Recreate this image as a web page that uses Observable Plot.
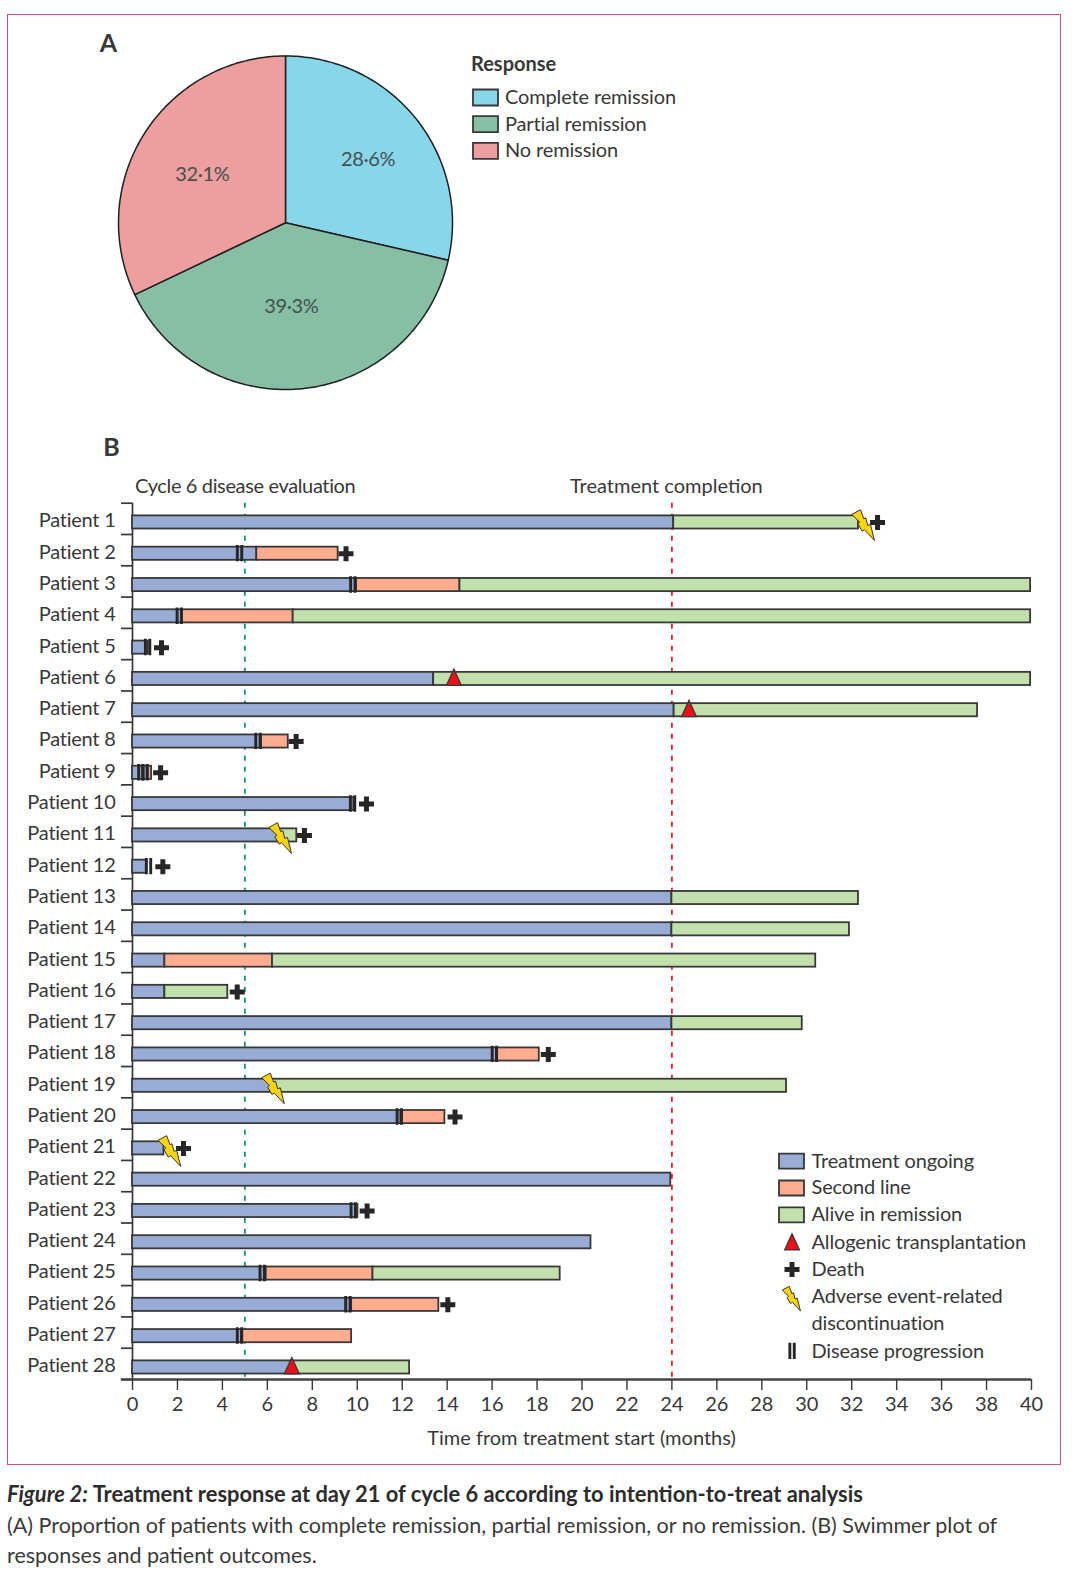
<!DOCTYPE html>
<html><head><meta charset="utf-8">
<script src="https://cdn.jsdelivr.net/npm/d3@7"></script>
<script src="https://cdn.jsdelivr.net/npm/@observablehq/plot@0.6"></script>
<style>
html,body{margin:0;padding:0;background:#fff}
#page{position:relative;width:1080px;height:1576px;font-family:Lato,sans-serif;color:#3a3a3a;overflow:hidden}
#frame{position:absolute;left:7px;top:14px;width:1052px;height:1449px;border:1px solid #dc4f7c;box-sizing:content-box}
#a,#b{position:absolute;left:0}
#a{top:0}#b{top:430px}
#cap{position:absolute;left:7px;top:1479px;width:1050px;font-size:21.5px;line-height:30.6px}
#cap b{font-weight:700;color:#2c2c2c;font-size:21.9px}
svg{font-family:Lato,sans-serif;background:transparent;overflow:visible}
.tight text{letter-spacing:-0.36px}
.rows text{letter-spacing:-0.24px}
.slight text{letter-spacing:-0.14px}
</style></head><body>
<div id="page"><div id="frame"></div><div id="a"></div><div id="b"></div>
<div id="cap"><b><i>Figure 2:</i> Treatment response at day 21 of cycle 6 according to intention-to-treat analysis</b><br>(A) Proportion of patients with complete remission, partial remission, or no remission. (B) Swimmer plot of<br>responses and patient outcomes.</div>
</div>
<script>
// ---- Panel A data
const responses = ["Complete remission","Partial remission","No remission"];
const responseShare = [28.6,39.3,32.1];
const responseLabels = ["28·6%","39·3%","32·1%"];
const responseColors = ["#88d6ea","#86bfa4","#ec9f9e"];
const labelRadius = [0.623,0.505,0.575];
const labelAngle = [52.6,176,300];

// ---- Panel B data (months)
const patients = d3.range(1,29).map(i=>"Patient "+i);
const ongoingEnd   = [24.08,5.53,9.97,2.2,0.7,13.4,24.1,5.74,0.7,9.85,6.5,0.65,24,24,1.44,1.44,24,16.2,6.2,11.95,1.4,23.95,10.03,20.4,5.95,9.75,4.85,7.1];
const secondEnd    = [null,9.15,14.57,7.15,null,null,null,6.93,0.85,null,null,null,null,null,6.23,null,null,18.1,null,13.9,null,null,null,null,10.7,13.63,9.75,null];
const remissionEnd = [32.3,null,39.96,39.96,null,39.96,37.6,null,null,null,7.31,null,32.3,31.9,30.4,4.24,29.8,null,29.1,null,null,null,null,null,19.03,null,null,12.33];
const deathAt      = [33.15,9.5,null,null,1.29,null,null,7.28,1.25,10.41,7.65,1.35,null,null,null,4.66,null,18.5,null,14.35,2.27,null,10.44,null,null,14.03,null,null];
const progressionAt= [null,4.76,9.8,2.08,0.67,null,null,5.58,0.37,9.79,null,0.71,null,null,null,null,null,16.1,null,11.87,null,null,9.82,null,5.77,9.58,4.76,null];
const progression2 = [[8,0.55]]; // second progression: [patient index, month]
const transplantAt = [null,null,null,null,null,14.3,24.76,null,null,null,null,null,null,null,null,null,null,null,null,null,null,null,null,null,null,null,null,7.09];
const adverseAt    = [32.24,null,null,null,null,null,null,null,null,null,6.3,null,null,null,null,null,null,null,5.98,null,1.37,null,null,null,null,null,null,null];
const xTicks = d3.range(0,41,2);
const stages = ["Treatment ongoing","Second line","Alive in remission"];
const stageColors = ["#98acd6","#ffad8e","#c2e0ac"];

const INK="#383838", DARK="#262626";
const px = v=>({value:()=>v,scale:null});

// ---- glyphs as Plot symbols
const rectSym=(w,h)=>({draw(c){c.rect(-w/2,-h/2,w,h);}});
const poly=(c,p)=>{p.forEach((q,i)=>i?c.lineTo(q[0],q[1]):c.moveTo(q[0],q[1]));c.closePath();};
const plusSym={draw(c){const a=7.5,t=2.5;poly(c,[[-t,-a],[t,-a],[t,-t],[a,-t],[a,t],[t,t],[t,a],[-t,a],[-t,t],[-a,t],[-a,-t],[-t,-t]]);}};
const triSym={draw(c){poly(c,[[-7.4,6.4],[0,-9.8],[7.4,6.4]]);}};
const boltPts=[[-5.3,-8],[3.4,-12.7],[6.7,-3.7],[8.7,-4.7],[10.7,3],[13.4,2],[17.4,18],[7.4,7.3],[5,8.7],[0.7,1.3],[2.7,-0.3]];
const boltSym=k=>({draw(c){poly(c,boltPts.map(([a,b])=>[a*k,b*k]));}});
const progSym={draw(c){c.rect(-3.6,-8.8,2.9,16.4);c.rect(0.8,-8.8,2.9,16.4);}};

// ---- Panel A
const angles=[];let acc=0;
responseShare.forEach((v,i)=>{const a0=acc/100*2*Math.PI;acc+=v;angles.push([a0,acc/100*2*Math.PI]);});
const slicePts=responses.flatMap((name,i)=>{
  const [a0,a1]=angles[i];const n=Math.ceil((a1-a0)*60);
  return [{name,x:0,y:0},...d3.range(n+1).map(k=>{const a=a0+(a1-a0)*k/n;return {name,x:Math.sin(a),y:Math.cos(a)};}),{name,x:0,y:0}];
});
const sliceLabels=responses.map((name,i)=>{const m=labelAngle[i]*Math.PI/180;return {t:responseLabels[i],x:labelRadius[i]*Math.sin(m),y:labelRadius[i]*Math.cos(m)};});
const legendA=responses.map((name,i)=>({name,y:97+i*26.7}));

document.getElementById("a").append(Plot.plot({
  width:1080,height:430,marginLeft:118,marginRight:628,marginTop:55.5,marginBottom:41,
  x:{domain:[-1,1],axis:null},y:{domain:[-1,1],axis:null},
  color:{domain:responses,range:responseColors},
  marks:[
    Plot.line(slicePts,{x:"x",y:"y",fill:"name",stroke:"#1f1f1f",strokeWidth:1.5,strokeLinejoin:"round"}),
    Plot.text(sliceLabels,{x:"x",y:"y",text:"t",fontSize:20,fill:"#44504e",className:"tight"}),
    Plot.text(["A"],{x:px(108),y:px(43.5),text:d=>d,fontSize:25,fontWeight:700,fill:INK}),
    Plot.text(["Response"],{x:px(470.5),y:px(64),text:d=>d,textAnchor:"start",fontSize:20,fontWeight:700,fill:INK}),
    Plot.dot(legendA,{x:px(485),y:{value:d=>d.y,scale:null},r:5,symbol:rectSym(25,16),fill:"name",stroke:INK,strokeWidth:1.8}),
    Plot.text(legendA,{x:px(504.5),y:{value:d=>d.y,scale:null},text:"name",textAnchor:"start",fontSize:20,fill:INK,className:"slight"})
  ]
}));

// ---- Panel B
const rowC=i=>i+0.615, half=0.21;
const segs=[];
patients.forEach((p,i)=>{let s=0;[ongoingEnd[i],secondEnd[i],remissionEnd[i]].forEach((e,k)=>{if(e!=null){segs.push({stage:stages[k],x1:s,x2:e,y1:rowC(i)-half,y2:rowC(i)+half});s=e;}});});
const events=arr=>arr.map((v,i)=>v==null?null:{x:v,y:rowC(i)}).filter(Boolean);
const prog=[...events(progressionAt),...progression2.map(([i,v])=>({x:v,y:rowC(i)}))];
const T=430;
const legendSw=stages.map((name,i)=>({name,y:1160.7+i*26.8-T}));
const legendText=[
  ["Treatment ongoing",1160.7],["Second line",1187.5],["Alive in remission",1214.3],
  ["Allogenic transplantation",1242.5],["Death",1269.2],["Adverse event-related",1295.7],["discontinuation",1322.7],["Disease progression",1350.7]
].map(([t,y])=>({t,y:y-T}));

document.getElementById("b").append(Plot.plot({
  width:1080,height:1033,marginLeft:132,marginRight:49,marginTop:72.7,marginBottom:84,
  x:{domain:[0,40]},y:{domain:[0,28],reverse:true},
  color:{domain:stages,range:stageColors},
  marks:[
    Plot.ruleX([5],{y1:0,y2:28,stroke:"#0b9a6a",strokeWidth:1.8,strokeDasharray:"5 6"}),
    Plot.ruleX([24],{y1:0,y2:28,stroke:"#ee1c2e",strokeWidth:1.8,strokeDasharray:"5 6"}),
    Plot.axisY(d3.range(0,29),{anchor:"left",tickSize:11,tickFormat:()=>"",label:null,stroke:INK,strokeWidth:1.7}),
    Plot.axisY(patients.map((p,i)=>rowC(i)),{anchor:"left",tickSize:0,tickPadding:17,label:null,fontSize:20,fill:INK,dy:-1.5,className:"rows",tickFormat:(d,i)=>patients[i]}),
    Plot.ruleX([0],{y1:0,y2:28,stroke:INK,strokeWidth:1.7}),
    Plot.ruleY([28],{x1:-0.5,x2:40,stroke:"#444",strokeWidth:2.6}),
    Plot.axisX(xTicks,{anchor:"bottom",tickSize:11,tickPadding:6,fontSize:20,fill:INK,stroke:INK,strokeWidth:1.4,label:null,tickFormat:d=>d}),
    Plot.text(["Time from treatment start (months)"],{x:px(581),y:px(1008),text:d=>d,fontSize:20,fill:INK}),
    Plot.rect(segs,{x1:"x1",x2:"x2",y1:"y1",y2:"y2",fill:"stage",stroke:INK,strokeWidth:1.8}),
    Plot.dot(prog,{x:"x",y:"y",r:5,symbol:progSym,fill:DARK,stroke:"none"}),
    Plot.dot(events(transplantAt),{x:"x",y:"y",r:5,symbol:triSym,fill:"#f30d17",stroke:INK,strokeWidth:1.3}),
    Plot.dot(events(adverseAt),{x:"x",y:"y",r:5,symbol:boltSym(1),fill:"#ffd40a",stroke:"#333",strokeWidth:1}),
    Plot.dot(events(deathAt),{x:"x",y:"y",r:5,symbol:plusSym,fill:DARK,stroke:"none"}),
    Plot.text(["B"],{x:px(111),y:px(17),text:d=>d,fontSize:25,fontWeight:700,fill:INK}),
    Plot.text(["Cycle 6 disease evaluation"],{x:px(134.5),y:px(56),text:d=>d,textAnchor:"start",fontSize:20,fill:INK,className:"tight"}),
    Plot.text(["Treatment completion"],{x:px(569.5),y:px(56),text:d=>d,textAnchor:"start",fontSize:20,fill:INK}),
    Plot.dot(legendSw,{x:px(791),y:{value:d=>d.y,scale:null},r:5,symbol:rectSym(25,15),fill:"name",stroke:INK,strokeWidth:1.8}),
    Plot.dot([{y:1243-T}],{x:px(791.5),y:{value:d=>d.y,scale:null},r:5,symbol:triSym,fill:"#f30d17",stroke:INK,strokeWidth:1.3}),
    Plot.dot([{y:1269-T}],{x:px(791.5),y:{value:d=>d.y,scale:null},r:5,symbol:plusSym,fill:DARK,stroke:"none"}),
    Plot.dot([{y:1296-T}],{x:px(786),y:{value:d=>d.y,scale:null},r:5,symbol:boltSym(0.8),fill:"#ffd40a",stroke:"#333",strokeWidth:1}),
    Plot.dot([{y:1351-T}],{x:px(791.5),y:{value:d=>d.y,scale:null},r:5,symbol:progSym,fill:DARK,stroke:"none"}),
    Plot.text(legendText,{x:px(811),y:{value:d=>d.y,scale:null},text:"t",textAnchor:"start",fontSize:20,fill:INK,className:"slight"})
  ]
}));
</script>
</body></html>
